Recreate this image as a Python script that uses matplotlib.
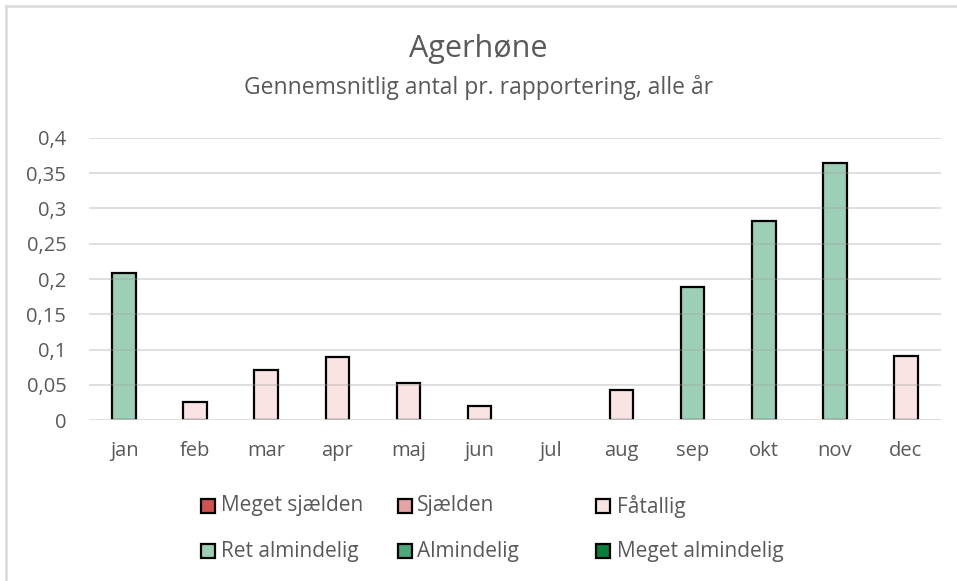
import matplotlib.pyplot as plt
from matplotlib.patches import Rectangle
from matplotlib.lines import Line2D

# Data
months = ['jan', 'feb', 'mar', 'apr', 'maj', 'jun', 'jul', 'aug', 'sep', 'okt', 'nov', 'dec']
values = [0.209, 0.026, 0.071, 0.089, 0.052, 0.020, 0.0, 0.043, 0.189, 0.282, 0.365, 0.091]
classes = ['Ret almindelig', 'Fåtallig', 'Fåtallig', 'Fåtallig', 'Fåtallig', 'Fåtallig',
           'Fåtallig', 'Fåtallig', 'Ret almindelig', 'Ret almindelig', 'Ret almindelig', 'Fåtallig']
y_ticks = [0, 0.05, 0.1, 0.15, 0.2, 0.25, 0.3, 0.35, 0.4]
y_tick_labels = ['0', '0,05', '0,1', '0,15', '0,2', '0,25', '0,3', '0,35', '0,4']

legend_labels = ['Meget sjælden', 'Sjælden', 'Fåtallig',
                 'Ret almindelig', 'Almindelig', 'Meget almindelig']
legend_colors = ['#D05252', '#E6A3A3', '#FAE3E3',
                 '#9CCFB5', '#4DA87A', '#087D3C']
color_of = dict(zip(legend_labels, legend_colors))

TEXT = '#595959'
GRID = '#D9D9D9'
FONT = ['Open Sans', 'DejaVu Sans']

plt.rcParams['font.family'] = FONT

W, H = 957, 581
fig = plt.figure(figsize=(W / 100, H / 100), dpi=100)
ax = fig.add_axes([88.5 / W, 1 - 420 / H, (941.5 - 88.5) / W, (420 - 138) / H])

x = range(len(months))
for xi, v, c in zip(x, values, classes):
    ax.bar(xi, v, width=0.33, color=color_of[c], edgecolor='black',
           linewidth=1.6 if v > 0 else 0, zorder=2)

ax.set_xlim(-0.5, len(months) - 0.5)
ax.set_ylim(0, 0.4)
ax.set_yticks(y_ticks)
ax.set_yticklabels(y_tick_labels)
ax.set_xticks(list(x))
ax.set_xticklabels(months)
ax.tick_params(length=0, colors=TEXT, labelsize=14.5)
ax.tick_params(axis='x', pad=15)
ax.tick_params(axis='y', pad=16)

for v in y_ticks[1:]:
    ax.axhline(v, color='#A0A0A0', alpha=0.4, linewidth=1.2, zorder=3)
ax.axhline(0, color=GRID, linewidth=1.2, zorder=3)
for s in ax.spines.values():
    s.set_visible(False)

# Titles
fig.text(0.5, 1 - 49 / H, 'Agerhøne', ha='center', va='center', fontsize=22, color=TEXT)
fig.text(0.5, 1 - 88 / H, 'Gennemsnitlig antal pr. rapportering, alle år',
         ha='center', va='center', fontsize=16.5, color=TEXT)

# Legend (drawn by hand to match the three fixed columns)
box_x = [208, 405, 603]
text_x = [221, 417, 617]
row_y = [506, 551]
for i, (lab, col) in enumerate(zip(legend_labels, legend_colors)):
    bx = box_x[i % 3]
    tx = text_x[i % 3]
    py = row_y[i // 3]
    fig.add_artist(Rectangle(((bx - 7) / W, 1 - (py + 7) / H), 14 / W, 14 / H,
                             transform=fig.transFigure, facecolor=col,
                             edgecolor='black', linewidth=1.6))
    fig.text(tx / W, 1 - py / H, lab, ha='left', va='center',
             fontsize=15, color=TEXT)

# Chart area border (only top and left visible)
fig.add_artist(Line2D([6 / W, 1], [1 - 6 / H, 1 - 6 / H], transform=fig.transFigure,
                      color=GRID, linewidth=1.8))
fig.add_artist(Line2D([6 / W, 6 / W], [0, 1 - 6 / H], transform=fig.transFigure,
                      color=GRID, linewidth=1.8))

fig.savefig('out.png', dpi=100, facecolor='white')
